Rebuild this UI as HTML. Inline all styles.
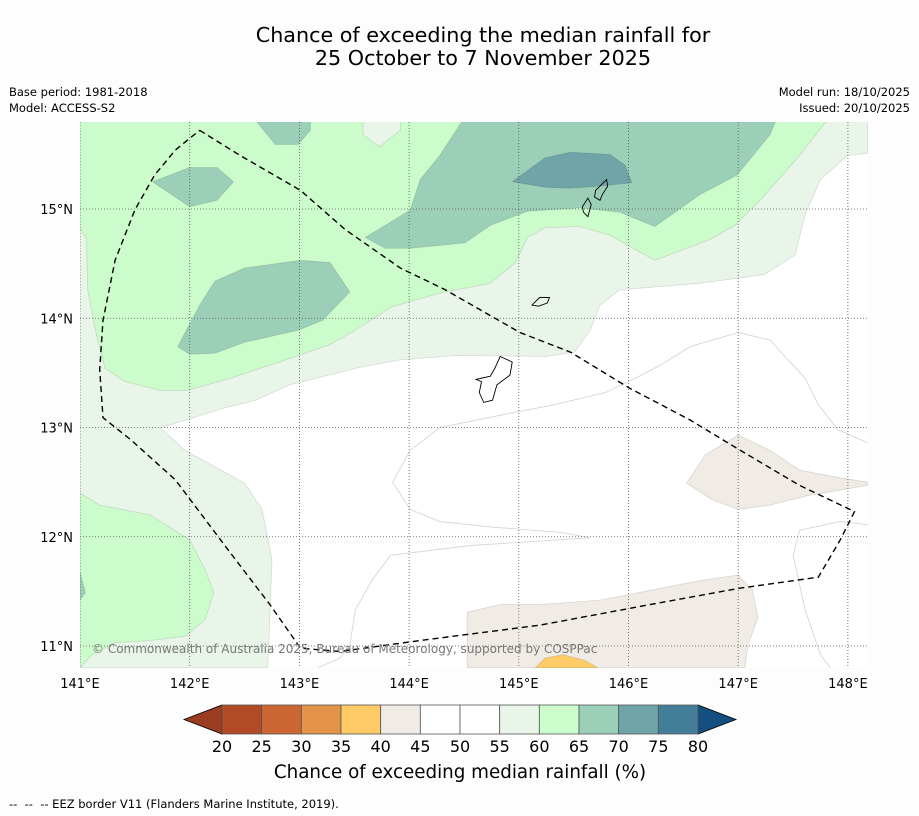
<!DOCTYPE html>
<html><head><meta charset="utf-8">
<style>
html,body{margin:0;padding:0;background:#fdfdfd;}
svg{display:block;font-family:"DejaVu Sans","Liberation Sans",sans-serif;}
</style></head>
<body>
<svg id="chart" width="919" height="816" viewBox="0 0 919 816" xmlns="http://www.w3.org/2000/svg">
<rect width="919" height="816" fill="#fdfdfd"/>
<text x="483" y="42" font-size="20.7" text-anchor="middle" fill="#000">Chance of exceeding the median rainfall for</text>
<text x="483" y="65" font-size="20.7" text-anchor="middle" fill="#000">25 October to 7 November 2025</text>
<text x="9" y="96" font-size="11.5">Base period: 1981-2018</text>
<text x="9" y="112" font-size="11.5">Model: ACCESS-S2</text>
<text x="910" y="96" font-size="11.5" text-anchor="end">Model run: 18/10/2025</text>
<text x="910" y="112" font-size="11.5" text-anchor="end">Issued: 20/10/2025</text>
<defs><clipPath id="mapclip"><rect x="80" y="122" width="788" height="546"/></clipPath></defs>
<g id="map" clip-path="url(#mapclip)">
<rect x="80" y="122" width="788" height="546" fill="#ffffff"/>
</g>
<g id="ticks"></g>
<g id="cbar"></g>
<text x="460" y="778" font-size="18.3" text-anchor="middle">Chance of exceeding median rainfall (%)</text>
<text x="9" y="808" font-size="11.5" xml:space="preserve" style="white-space:pre">--  --  -- EEZ border V11 (Flanders Marine Institute, 2019).</text>
</svg>
<script>
// ---- data ----
const lonTicks = [141,142,143,144,145,146,147,148];
const latTicks = [11,12,13,14,15];
const levels = [20,25,30,35,40,45,50,55,60,65,70,75,80];
const levelColors = ["#b34a26","#cc6633","#e39449","#fecb67","#f0ebe5","#ffffff","#ffffff","#eaf5ea","#ccfccc","#9ccfb8","#6fa5a8","#427e98"];
const underColor = "#9a3d22";
const overColor = "#154f80";

const band55 = [[141,15.8],[148.18,15.8],[148.18,15.51],[148,15.49],[147.75,15.27],[147.61,14.95],[147.52,14.58],[147.24,14.4],[146.65,14.32],[145.92,14.26],[145.74,14.12],[145.65,13.89],[145.51,13.69],[145.24,13.65],[144.46,13.66],[143.92,13.62],[143.55,13.55],[142.91,13.39],[142.6,13.25],[142.32,13.18],[141.91,13.05],[141.73,13.0],[141.96,12.79],[142.5,12.49],[142.66,12.25],[142.75,11.79],[142.73,11.24],[142.71,10.8],[141,10.8]];
const band60a = [[141,15.8],[147.8,15.8],[147.56,15.49],[147.2,15.08],[146.97,14.85],[146.74,14.72],[146.24,14.53],[145.83,14.76],[145.56,14.84],[145.24,14.83],[145.08,14.74],[144.97,14.51],[144.74,14.32],[144.28,14.23],[143.83,14.1],[143.51,13.89],[143.28,13.76],[142.82,13.6],[142.37,13.45],[141.98,13.34],[141.73,13.34],[141.41,13.42],[141.23,13.54],[141.14,13.89],[141.07,14.26],[141.06,14.72],[141,14.83]];
const band55notch = [[143.58,15.8],[143.92,15.8],[143.92,15.72],[143.73,15.57],[143.58,15.68]];
const band60b = [[141,12.4],[141.18,12.29],[141.64,12.2],[142,11.97],[142.14,11.7],[142.22,11.49],[142.14,11.24],[141.96,11.09],[141.64,11.05],[141.32,11.03],[141.11,10.92],[141,10.8]];
const band65a = [[144.48,15.8],[147.34,15.8],[147.29,15.68],[146.99,15.31],[146.65,15.13],[146.24,14.84],[145.92,14.97],[145.56,15.01],[145.08,14.98],[144.74,14.85],[144.51,14.69],[144.01,14.64],[143.78,14.64],[143.6,14.74],[144.01,14.99],[144.1,15.27],[144.28,15.49]];
const band65b = [[142.61,15.8],[143.1,15.8],[143.1,15.72],[142.99,15.59],[142.78,15.59]];
const band65c = [[141.66,15.25],[142,15.38],[142.25,15.38],[142.4,15.25],[142.25,15.08],[142,15.02]];
const band65d = [[141.89,13.74],[142.09,14.12],[142.23,14.34],[142.5,14.46],[143.01,14.53],[143.28,14.51],[143.46,14.24],[143.21,13.98],[142.99,13.89],[142.5,13.78],[142.23,13.68],[142,13.67]];
const band65e = [[141,11.68],[141.05,11.49],[141,11.42]];
const band70 = [[144.94,15.25],[145.24,15.47],[145.47,15.52],[145.83,15.5],[145.97,15.4],[146.03,15.24],[145.74,15.21],[145.47,15.19],[145.24,15.2]];
const band40a = [[146.53,12.49],[146.7,12.75],[147,12.93],[147.29,12.79],[147.56,12.61],[147.93,12.54],[148.18,12.5],[148.18,12.47],[147.65,12.38],[147.29,12.29],[147,12.25],[146.76,12.34]];
const band40b = [[144.53,10.8],[144.53,11.31],[144.83,11.38],[145.19,11.38],[145.74,11.42],[146.2,11.51],[146.65,11.6],[147,11.65],[147.13,11.51],[147.18,11.26],[147.09,11.01],[147.06,10.8]];
const band35 = [[145.15,10.8],[145.24,10.89],[145.4,10.92],[145.6,10.87],[145.72,10.8]];
const regions = [[55,band55],[60,band60a],[55,band55notch],[60,band60b],[65,band65a],[65,band65b],[65,band65c],[65,band65d],[65,band65e],[70,band70],[40,band40a],[40,band40b],[35,band35]];

const contour50a = [[148.18,12.86],[147.91,12.98],[147.73,13.21],[147.61,13.45],[147.29,13.8],[147,13.87],[146.56,13.74],[146.29,13.57],[146.06,13.45],[145.79,13.32],[145.33,13.21],[144.92,13.13],[144.28,13.0],[144.01,12.79],[143.85,12.5],[144.01,12.25],[144.28,12.14],[144.74,12.09],[145.38,12.04],[145.65,11.99],[144.56,11.92],[143.83,11.83],[143.66,11.6],[143.51,11.33],[143.46,11.01],[143.37,10.89],[143.17,10.8]];
const contour50b = [[148.18,12.11],[147.93,12.14],[147.56,12.06],[147.5,11.83],[147.56,11.56],[147.61,11.33],[147.75,10.92],[147.84,10.8]];

const eez = [[142.09,15.72],[142.46,15.49],[143.01,15.17],[143.42,14.81],[143.92,14.46],[144.33,14.26],[145.01,13.87],[145.47,13.69],[146.01,13.36],[146.56,13.07],[147.02,12.79],[147.56,12.47],[148.06,12.23],[147.93,11.97],[147.73,11.63],[147.02,11.53],[146.2,11.38],[145.19,11.19],[144.1,11.05],[143.37,10.95],[143.01,10.98],[142.73,11.38],[142.32,11.92],[141.87,12.52],[141.46,12.89],[141.21,13.09],[141.18,13.53],[141.21,13.98],[141.32,14.53],[141.5,14.99],[141.68,15.31],[141.87,15.54],[142.09,15.72]];

const guam = [[144.83,13.65],[144.94,13.6],[144.92,13.48],[144.8,13.39],[144.76,13.25],[144.68,13.23],[144.64,13.32],[144.66,13.42],[144.61,13.44],[144.74,13.47],[144.78,13.54]];
const rota = [[145.12,14.12],[145.19,14.19],[145.28,14.19],[145.26,14.14],[145.18,14.11]];
const tinian = [[145.58,15.02],[145.63,15.10],[145.66,15.04],[145.63,14.93],[145.59,14.97]];
const saipan = [[145.70,15.17],[145.80,15.27],[145.81,15.21],[145.76,15.13],[145.74,15.08],[145.69,15.11]];
const islands = [["guam",guam],["rota",rota],["tinian",tinian],["saipan",saipan]];

// ---- axes ----
const X = lon => 80 + (lon - 141) * 109.7;
const Y = lat => 209 + (15 - lat) * 109.25;
const NS = "http://www.w3.org/2000/svg";
function mk(tag, attrs, parent){const e=document.createElementNS(NS,tag);for(const k in attrs)e.setAttribute(k,attrs[k]);parent.appendChild(e);return e;}
const pts = arr => arr.map(p => X(p[0]).toFixed(1)+","+Y(p[1]).toFixed(1)).join(" ");
const colorFor = lv => levelColors[levels.indexOf(lv)];

const map = document.getElementById("map");
regions.forEach((r,i) => {
  const e = mk("polygon",{points:pts(r[1]),fill:colorFor(r[0]),stroke:"#000","stroke-opacity":0.12,"stroke-width":0.8},map);
  
  
});
[contour50a,contour50b].forEach((c,i) => {
  const e = mk("polyline",{points:pts(c),fill:"none",stroke:"#d6d6d6","stroke-width":0.9},map);
  
  
});
lonTicks.forEach(l => {
  const e = mk("line",{x1:X(l),x2:X(l),y1:122,y2:668,stroke:"#555","stroke-width":0.8,"stroke-dasharray":"1,2"},map);
  
  
});
latTicks.forEach(l => {
  const e = mk("line",{x1:80,x2:868,y1:Y(l),y2:Y(l),stroke:"#555","stroke-width":0.8,"stroke-dasharray":"1,2"},map);
  
  
});
islands.forEach(is => {
  const e = mk("polygon",{points:pts(is[1]),fill:"none",stroke:"#000","stroke-width":0.9},map);
  
  
});
const ez = mk("polyline",{points:pts(eez),fill:"none",stroke:"#000","stroke-width":1.4,"stroke-dasharray":"6,4"},map);


const cp = mk("text",{x:92,y:653,"font-size":12,fill:"#777"},map);
cp.textContent = "© Commonwealth of Australia 2025, Bureau of Meteorology, supported by COSPPac";



const ticks = document.getElementById("ticks");
lonTicks.forEach(l => {
  const t = mk("text",{x:X(l),y:688,"font-size":13,"text-anchor":"middle"},ticks);
  t.textContent = l + "°E";
  
  
});
latTicks.forEach(l => {
  const t = mk("text",{x:73,y:Y(l)+5,"font-size":13,"text-anchor":"end"},ticks);
  t.textContent = l + "°N";
  
  
});

// ---- colorbar ----
const cb = document.getElementById("cbar");
const cbX0 = 222, cbX1 = 698, cbY0 = 705, cbY1 = 734;
const CX = v => cbX0 + (v - levels[0]) / (levels[levels.length-1] - levels[0]) * (cbX1 - cbX0);
const under = mk("polygon",{points:`${cbX0},${cbY0} ${cbX0},${cbY1} ${cbX0-38},${(cbY0+cbY1)/2}`,fill:underColor,stroke:"#000","stroke-width":0.8},cb);


const over = mk("polygon",{points:`${cbX1},${cbY0} ${cbX1},${cbY1} ${cbX1+38},${(cbY0+cbY1)/2}`,fill:overColor,stroke:"#000","stroke-width":0.8},cb);


levelColors.forEach((c,i) => {
  const r = mk("rect",{x:CX(levels[i]),y:cbY0,width:CX(levels[i+1])-CX(levels[i]),height:cbY1-cbY0,fill:c,stroke:"#555","stroke-width":0.8},cb);
  
  
});
levels.forEach(v => {
  const t = mk("text",{x:CX(v),y:752,"font-size":16,"text-anchor":"middle"},cb);
  t.textContent = v;
  
  
});
</script>
</body></html>
